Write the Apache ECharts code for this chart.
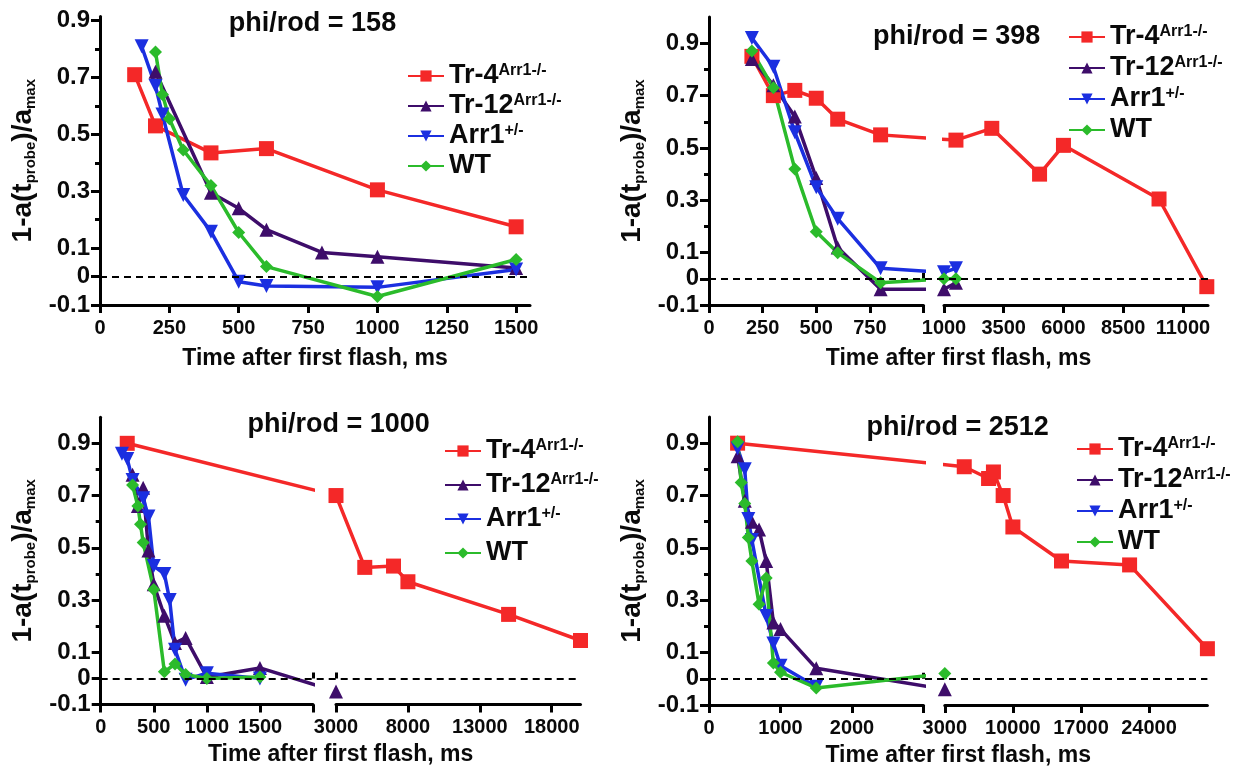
<!DOCTYPE html>
<html>
<head>
<meta charset="utf-8">
<script src="https://cdn.jsdelivr.net/npm/echarts@6/dist/echarts.min.js"></script>
<style>
html,body{margin:0;padding:0;background:#ffffff;}
#main{width:1240px;height:769px;}
</style>
</head>
<body>
<div id="main"></div>
<script>
// ================= DATA =================
const seriesNames = ['Tr-4', 'Tr-12', 'Arr1', 'WT'];
const titles = ['phi/rod = 158', 'phi/rod = 398', 'phi/rod = 1000', 'phi/rod = 2512'];
const xAxisTitle = 'Time after first flash, ms';

// panel 1 : phi/rod = 158  [time ms, 1-a/amax]
const p1_tr4  = [[125,0.71],[200,0.53],[400,0.435],[600,0.45],[1000,0.305],[1500,0.175]];
const p1_tr12 = [[200,0.72],[400,0.295],[500,0.24],[600,0.165],[800,0.085],[1000,0.07],[1500,0.03]];
const p1_arr1 = [[150,0.81],[200,0.67],[225,0.57],[300,0.287],[400,0.158],[500,-0.018],[600,-0.033],[1000,-0.038],[1500,0.025]];
const p1_wt   = [[200,0.79],[225,0.64],[250,0.555],[300,0.445],[400,0.32],[500,0.155],[600,0.035],[1000,-0.07],[1500,0.06]];

// panel 2 : phi/rod = 398
const p2_tr4  = [[200,0.85],[300,0.70],[400,0.72],[500,0.69],[600,0.61],[800,0.55],[1500,0.53],[3000,0.575],[5000,0.40],[6000,0.51],[10000,0.305],[12000,-0.03]];
const p2_tr12 = [[200,0.84],[300,0.74],[400,0.62],[500,0.385],[600,0.12],[800,-0.04],[1000,-0.04],[1500,-0.015]];
const p2_arr1 = [[200,0.92],[300,0.81],[400,0.56],[500,0.35],[600,0.23],[800,0.04],[1000,0.025],[1500,0.04]];
const p2_wt   = [[200,0.87],[300,0.73],[400,0.42],[500,0.18],[600,0.10],[800,-0.015],[1000,0.0],[1500,0.0]];

// panel 3 : phi/rod = 1000
const p3_tr4  = [[250,0.90],[3000,0.70],[5000,0.425],[7000,0.43],[8000,0.37],[15000,0.245],[20000,0.145]];
const p3_tr12 = [[300,0.78],[350,0.66],[400,0.73],[450,0.49],[500,0.36],[600,0.24],[700,0.135],[800,0.155],[1000,0.005],[1500,0.04],[3000,-0.05]];
const p3_arr1 = [[200,0.86],[250,0.84],[300,0.76],[400,0.69],[450,0.62],[500,0.43],[600,0.40],[650,0.30],[700,0.11],[800,-0.005],[1000,0.02],[1500,0.0]];
const p3_wt   = [[300,0.74],[350,0.66],[375,0.59],[400,0.52],[500,0.34],[600,0.025],[700,0.055],[800,0.015],[1000,0.0],[1500,0.005]];

// panel 4 : phi/rod = 2512
const p4_tr4  = [[400,0.90],[5000,0.81],[7500,0.765],[8000,0.79],[9000,0.70],[10000,0.58],[15000,0.45],[22000,0.435],[30000,0.115]];
const p4_tr12 = [[400,0.85],[500,0.68],[600,0.60],[700,0.57],[800,0.45],[900,0.215],[1000,0.19],[1500,0.04],[3000,-0.04]];
const p4_arr1 = [[400,0.88],[500,0.80],[550,0.61],[600,0.53],[800,0.24],[900,0.135],[1000,0.05],[1500,-0.03]];
const p4_wt   = [[400,0.905],[450,0.75],[500,0.67],[550,0.54],[600,0.45],[700,0.285],[800,0.385],[900,0.06],[1000,0.025],[1500,-0.035],[3000,0.02]];

// tick labels
const yTickLabels = [-0.1, 0, 0.1, 0.3, 0.5, 0.7, 0.9];
const yMinorTicks = [0.2, 0.4, 0.6, 0.8];
const p1_xTicks = [0, 250, 500, 750, 1000, 1250, 1500];
const p2_xLeft = [0, 250, 500, 750];
const p2_xRight = [1000, 3500, 6000, 8500, 11000];
const p3_xLeft = [0, 500, 1000, 1500];
const p3_xRight = [3000, 8000, 13000, 18000];
const p4_xLeft = [0, 1000, 2000];
const p4_xRight = [3000, 10000, 17000, 24000];

// ================= STYLE / LAYOUT =================
const FONT = '"Liberation Sans", Arial, Helvetica, sans-serif';
const INK = '#0a0a0a';
const STYLE = {
  'Tr-4':  {color: '#f42828', symbol: 'rect', size: 15},
  'Tr-12': {color: '#3e0d6a', symbol: 'triangle', size: 14},
  'Arr1':  {color: '#1b2fe0', symbol: 'path://M0,0L20,0L10,18Z', size: 14},
  'WT':    {color: '#2bbb2b', symbol: 'diamond', size: 13}
};
const legendLabel = {
  'Tr-4': '{b|Tr-4}{s|Arr1-/-}',
  'Tr-12': '{b|Tr-12}{s|Arr1-/-}',
  'Arr1': '{b|Arr1}{s|+/-}',
  'WT': '{b|WT}'
};
const yName = '{a|1-a(t}{b|probe}{a|)/a}{b|max}';

const panels = [
  { data: {'Tr-4': p1_tr4, 'Tr-12': p1_tr12, 'Arr1': p1_arr1, 'WT': p1_wt},
    top: 16.4, bottom: 305, yMax: 0.915,
    segs: [{left: 100, right: 530, min: 0, max: 1550, ticks: p1_xTicks, labels: p1_xTicks}],
    title: {text: titles[0], x: 312.5, top: 10.5},
    legend: {left: 407, top: 56, gap: -3}, yNameGap: 62, xNameGap: 42 },
  { data: {'Tr-4': p2_tr4, 'Tr-12': p2_tr12, 'Arr1': p2_arr1, 'WT': p2_wt},
    top: 17.1, bottom: 305, yMax: 1.0,
    segs: [{left: 709, right: 923.5, min: 0, max: 1000, ticks: p2_xLeft.concat([1000]), labels: p2_xLeft, cap: 1000},
           {left: 944, right: 1208, min: 1000, max: 12050, ticks: p2_xRight, labels: p2_xRight, cap: 1000}],
    title: {text: titles[1], x: 956.6, top: 23},
    legend: {left: 1068, top: 17, gap: -2}, yNameGap: 62, xNameGap: 42 },
  { data: {'Tr-4': p3_tr4, 'Tr-12': p3_tr12, 'Arr1': p3_arr1, 'WT': p3_wt},
    top: 417.2, bottom: 704.5, yMax: 1.0,
    segs: [{left: 100.7, right: 313, min: 0, max: 2000, ticks: p3_xLeft.concat([2000]), labels: p3_xLeft, cap: 2000},
           {left: 336, right: 580.5, min: 3000, max: 20000, ticks: p3_xRight, labels: p3_xRight, cap: 3000}],
    title: {text: titles[2], x: 338.7, top: 411},
    legend: {left: 444, top: 431, gap: 1}, yNameGap: 62, xNameGap: 39 },
  { data: {'Tr-4': p4_tr4, 'Tr-12': p4_tr12, 'Arr1': p4_arr1, 'WT': p4_wt},
    top: 417, bottom: 705, yMax: 1.0,
    segs: [{left: 709, right: 923.5, min: 0, max: 3000, ticks: p4_xLeft.concat([3000]), labels: p4_xLeft, cap: 3000},
           {left: 944.8, right: 1207.4, min: 3000, max: 30000, ticks: p4_xRight, labels: p4_xRight, cap: 3000}],
    title: {text: titles[3], x: 957.6, top: 414},
    legend: {left: 1076, top: 429, gap: -2}, yNameGap: 62, xNameGap: 39 }
];

// ================= BUILD OPTION =================
const option = {animation: false, backgroundColor: '#ffffff',
  title: [], legend: [], grid: [], xAxis: [], yAxis: [], series: []};
const bridges = [];
const blackLine = {color: '#000', width: 3};

panels.forEach(function (p) {
  option.title.push({text: p.title.text, left: p.title.x, top: p.title.top, textAlign: 'center', padding: 0,
    textStyle: {fontFamily: FONT, fontWeight: 'bold', fontSize: 27, color: INK}});
  option.legend.push({orient: 'vertical', left: p.legend.left, top: p.legend.top, padding: 0,
    itemGap: p.legend.gap, itemWidth: 36, itemHeight: 14, selectedMode: false, data: seriesNames,
    formatter: function (n) { return legendLabel[n]; },
    textStyle: {fontFamily: FONT, fontWeight: 'bold', fontSize: 27, color: INK,
      rich: {
        b: {fontFamily: FONT, fontWeight: 'bold', fontSize: 27, lineHeight: 26, color: INK, padding: [6, 0, 0, 0], verticalAlign: 'bottom'},
        s: {fontFamily: FONT, fontWeight: 'bold', fontSize: 16, lineHeight: 16, color: INK, verticalAlign: 'top'}
      }}});

  // full-width grid: zero dashed line + x-axis title
  const fullLeft = p.segs[0].left, fullRight = p.segs[p.segs.length - 1].right;
  const gF = option.grid.length;
  option.grid.push({left: fullLeft, top: p.top, width: fullRight - fullLeft, height: p.bottom - p.top, outerBoundsMode: 'none'});
  const xF = option.xAxis.length;
  option.xAxis.push({gridIndex: gF, type: 'value', min: 0, max: 1, position: 'bottom',
    axisLine: {show: false}, axisTick: {show: false}, axisLabel: {show: false}, splitLine: {show: false},
    name: xAxisTitle, nameLocation: 'middle', nameGap: p.xNameGap,
    nameTextStyle: {fontFamily: FONT, fontWeight: 'bold', fontSize: 23, color: INK}});
  const yF = option.yAxis.length;
  option.yAxis.push({gridIndex: gF, type: 'value', min: -0.1, max: p.yMax, show: false});
  option.series.push({type: 'line', name: 'zero', xAxisIndex: xF, yAxisIndex: yF, data: [], silent: true, z: 1,
    markLine: {silent: true, symbol: ['none', 'none'], label: {show: false},
      lineStyle: {color: '#000', type: [7, 5], width: 2}, data: [{yAxis: 0}]}});

  const segSeries = [];
  p.segs.forEach(function (s, si) {
    const g = option.grid.length;
    option.grid.push({left: s.left, top: p.top, width: s.right - s.left, height: p.bottom - p.top, outerBoundsMode: 'none'});
    const xi = option.xAxis.length;
    option.xAxis.push({gridIndex: g, type: 'value', min: s.min, max: s.max, position: 'bottom',
      axisLine: {show: true, onZero: false, lineStyle: blackLine},
      axisTick: {show: true, customValues: s.ticks, length: 8, lineStyle: blackLine},
      axisLabel: {show: true, customValues: s.labels, hideOverlap: false, formatter: function (v) { return String(v); },
        fontFamily: FONT, fontWeight: 'bold', fontSize: 20, color: INK, margin: 13},
      splitLine: {show: false}});
    if (s.cap != null) {
      option.xAxis.push({gridIndex: g, type: 'value', min: s.min, max: s.max, position: 'bottom', offset: 0,
        axisLine: {show: false}, axisLabel: {show: false}, splitLine: {show: false},
        axisTick: {show: true, inside: true, customValues: [s.cap], length: 6, lineStyle: blackLine}});
    }
    const yi = option.yAxis.length;
    if (si === 0) {
      option.yAxis.push({gridIndex: g, type: 'value', min: -0.1, max: p.yMax, position: 'left',
        axisLine: {show: true, onZero: false, lineStyle: blackLine},
        axisTick: {show: true, customValues: yTickLabels, length: 9, lineStyle: blackLine},
        axisLabel: {show: true, customValues: yTickLabels, hideOverlap: false, formatter: function (v) { return String(v); },
          fontFamily: FONT, fontWeight: 'bold', fontSize: 24, color: INK, margin: 10},
        splitLine: {show: false},
        name: yName, nameLocation: 'middle', nameGap: p.yNameGap, nameRotate: 90,
        nameTextStyle: {fontFamily: FONT, fontWeight: 'bold', fontSize: 27, color: INK,
          rich: {
            a: {fontFamily: FONT, fontWeight: 'bold', fontSize: 28, lineHeight: 30, color: INK},
            b: {fontFamily: FONT, fontWeight: 'bold', fontSize: 15, lineHeight: 16, color: INK, verticalAlign: 'bottom'}
          }}});
      option.yAxis.push({gridIndex: g, type: 'value', min: -0.1, max: p.yMax, position: 'left', offset: 0,
        axisLine: {show: false}, axisLabel: {show: false}, splitLine: {show: false},
        axisTick: {show: true, customValues: yMinorTicks, length: 5, lineStyle: blackLine}});
    } else {
      option.yAxis.push({gridIndex: g, type: 'value', min: -0.1, max: p.yMax, show: false});
    }
    seriesNames.forEach(function (name) {
      const all = p.data[name];
      let pts = all;
      if (p.segs.length > 1) {
        const brk = p.segs[1].min;
        pts = all.filter(function (d) { return si === 0 ? d[0] < brk : d[0] >= brk; });
      }
      const st = STYLE[name];
      const idx = option.series.length;
      option.series.push({type: 'line', name: name, xAxisIndex: xi, yAxisIndex: yi,
        data: pts.map(function (d) { return [d[0], d[1]]; }),
        clip: true, symbol: st.symbol, symbolSize: st.size, showAllSymbol: true, color: st.color,
        lineStyle: {color: st.color, width: 3.5}, itemStyle: {color: st.color, borderWidth: 0},
        emphasis: {disabled: true}, z: 3});
      segSeries.push({si: si, name: name, idx: idx, pts: pts});
    });
  });
  if (p.segs.length === 2) {
    seriesNames.forEach(function (name) {
      const L = segSeries.find(function (e) { return e.si === 0 && e.name === name; });
      const R = segSeries.find(function (e) { return e.si === 1 && e.name === name; });
      if (L.pts.length && R.pts.length) {
        bridges.push({li: L.idx, ri: R.idx, lastL: L.pts[L.pts.length - 1], firstR: R.pts[0]});
      }
    });
  }
});

const chart = echarts.init(document.getElementById('main'), null, {renderer: 'canvas'});
chart.setOption(option);

// connect lines across the axis breaks using the library's own scales
bridges.forEach(function (b) {
  const pR = chart.convertToPixel({seriesIndex: b.ri}, b.firstR);
  const vInLeft = chart.convertFromPixel({seriesIndex: b.li}, pR);
  const pL = chart.convertToPixel({seriesIndex: b.li}, b.lastL);
  const vInRight = chart.convertFromPixel({seriesIndex: b.ri}, pL);
  option.series[b.li].data.push({value: vInLeft, symbol: 'none'});
  option.series[b.ri].data.unshift({value: vInRight, symbol: 'none'});
});
if (bridges.length) {
  chart.setOption({series: option.series.map(function (s) { return {data: s.data}; })});
}
</script>
</body>
</html>
